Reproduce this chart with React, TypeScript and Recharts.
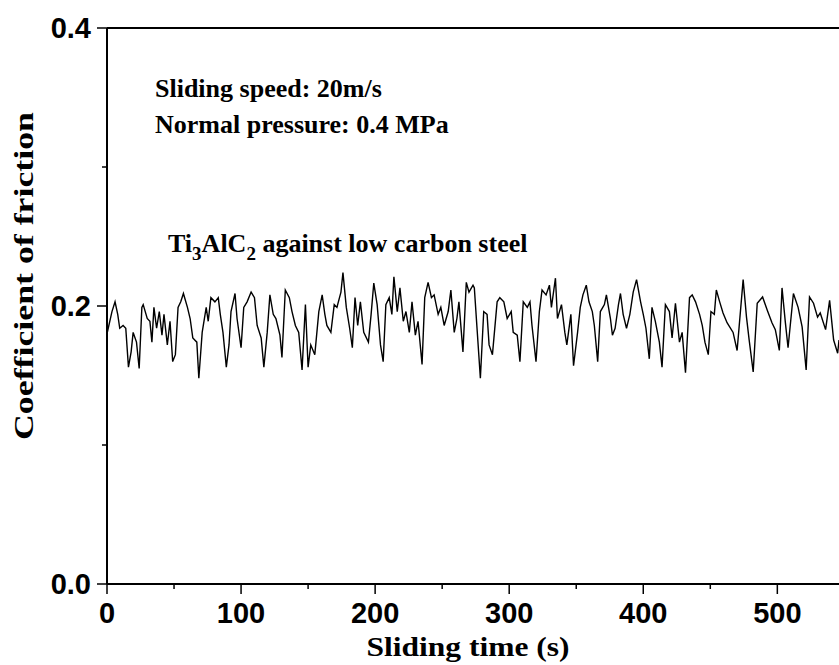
import React from 'react';
import { LineChart, Line, XAxis, YAxis, ReferenceLine } from 'recharts';

// friction trace (time in s, coefficient of friction)
const TIME = [
  0, 3.7, 6, 8, 9.5, 12, 14, 16, 18, 19.5, 22, 24, 26, 27, 30, 32, 33.5, 35, 37, 39,
  41, 42.5, 45, 47, 49, 51, 53, 55, 57, 60, 62, 64, 67, 68.5, 71, 74, 75.5, 77.5, 80.5, 83,
  84.5, 86.5, 89, 91, 92.5, 95.5, 97, 100, 102, 104.5, 107.5, 110, 112, 115, 117, 119.5, 121.5, 124, 126, 129,
  130.5, 133, 136, 138, 140.5, 143, 145.5, 148, 150, 152, 155, 158, 160.5, 162.5, 164, 167, 169.5, 171.5, 174.5, 176,
  178.5, 181, 183, 185, 187, 189, 191.5, 195, 197, 199, 201.5, 204, 206, 208, 210.5, 212.5, 214, 216.5, 218.5, 221,
  223, 225.5, 227.5, 230, 232, 235, 237, 239.5, 242, 244, 247, 249, 251.5, 254.5, 256.5, 259, 261, 262.5, 265.5, 268,
  270, 273, 274, 276, 278.5, 281, 283.5, 285, 287.5, 291, 293, 296, 298.5, 301.5, 303, 306, 308, 310.5, 313.5, 315.5,
  317, 320, 322.5, 324.5, 327.5, 330, 331.5, 334.5, 336, 339, 341.5, 343, 346, 348, 351, 353, 355, 357.5, 359.5, 362,
  363.5, 366, 368, 371, 372.5, 375.5, 377, 379, 381.5, 383, 385, 387.5, 390, 392.5, 395, 398, 400, 402, 404.5, 406.5,
  409, 412, 414, 416.5, 419.5, 421.5, 424, 427, 429, 431.5, 434.5, 436.5, 439, 442, 444, 446, 448.5, 450.5, 453, 454.5,
  457, 459.5, 462.5, 467, 470, 471.5, 474.5, 477, 479, 482, 485, 489, 492.5, 496, 498.5, 501.5, 503.5, 506, 508, 512,
  515.5, 518.5, 521.5, 524, 527, 530, 532, 536, 539, 542, 545, 546,
];

const COF = [
  0.18, 0.196, 0.203, 0.194, 0.184, 0.186, 0.184, 0.156, 0.167, 0.181, 0.174, 0.155, 0.199, 0.201, 0.191, 0.189, 0.174, 0.199, 0.184, 0.196,
  0.179, 0.194, 0.172, 0.189, 0.16, 0.165, 0.199, 0.203, 0.209, 0.199, 0.191, 0.177, 0.174, 0.148, 0.181, 0.199, 0.189, 0.206, 0.203, 0.206,
  0.194, 0.181, 0.156, 0.172, 0.196, 0.209, 0.191, 0.17, 0.199, 0.203, 0.21, 0.206, 0.186, 0.177, 0.156, 0.181, 0.208, 0.194, 0.191, 0.179,
  0.163, 0.2115, 0.206, 0.196, 0.186, 0.181, 0.154, 0.201, 0.156, 0.172, 0.165, 0.196, 0.208, 0.194, 0.186, 0.181, 0.201, 0.199, 0.21, 0.224,
  0.199, 0.184, 0.17, 0.206, 0.186, 0.203, 0.181, 0.174, 0.194, 0.2165, 0.201, 0.172, 0.16, 0.201, 0.206, 0.194, 0.221, 0.196, 0.213, 0.189,
  0.196, 0.181, 0.203, 0.179, 0.189, 0.158, 0.206, 0.217, 0.206, 0.208, 0.194, 0.199, 0.186, 0.196, 0.2115, 0.181, 0.191, 0.203, 0.167, 0.217,
  0.21, 0.215, 0.213, 0.184, 0.148, 0.196, 0.194, 0.172, 0.165, 0.203, 0.206, 0.203, 0.191, 0.196, 0.181, 0.179, 0.16, 0.203, 0.199, 0.203,
  0.186, 0.16, 0.196, 0.2115, 0.208, 0.215, 0.199, 0.22, 0.191, 0.201, 0.181, 0.172, 0.194, 0.157, 0.181, 0.199, 0.208, 0.215, 0.203, 0.196,
  0.186, 0.16, 0.196, 0.201, 0.208, 0.191, 0.179, 0.184, 0.201, 0.209, 0.194, 0.184, 0.194, 0.21, 0.219, 0.203, 0.194, 0.184, 0.162, 0.199,
  0.189, 0.174, 0.156, 0.201, 0.196, 0.177, 0.202, 0.174, 0.181, 0.152, 0.206, 0.208, 0.203, 0.194, 0.186, 0.174, 0.165, 0.196, 0.194, 0.2115,
  0.203, 0.195, 0.188, 0.181, 0.168, 0.185, 0.219, 0.192, 0.1755, 0.1525, 0.202, 0.2065, 0.197, 0.188, 0.183, 0.168, 0.213, 0.188, 0.17, 0.209,
  0.199, 0.185, 0.154, 0.2065, 0.202, 0.192, 0.195, 0.183, 0.204, 0.1755, 0.166, 0.1755,
];

const X_MAJOR = [0, 100, 200, 300, 400, 500];
const X_MINOR = [50, 150, 250, 350, 450];
const Y_MAJOR = [0, 0.2, 0.4];
const Y_MINOR = [0.1, 0.3];

const data = TIME.map((t, i) => ({ t, cof: COF[i] }));

const sans = '"Liberation Sans", Arial, sans-serif';
const serif = '"Liberation Serif", "Times New Roman", serif';

function XTick(props: any) {
  const { x, y, payload } = props;
  const major = X_MAJOR.includes(payload.value);
  return (
    <g>
      <line x1={x} x2={x} y1={y} y2={y + (major ? 10 : 5)} stroke="#000" strokeWidth={1.5} />
      {major && (
        <text x={x} y={y + 39} textAnchor="middle" fontFamily={sans} fontWeight="bold" fontSize={29} fill="#000">
          {payload.value}
        </text>
      )}
    </g>
  );
}

function YTick(props: any) {
  const { x, y, payload } = props;
  const major = Y_MAJOR.some((v) => Math.abs(v - payload.value) < 1e-9);
  return (
    <g>
      <line x1={x - (major ? 10 : 5)} x2={x} y1={y} y2={y} stroke="#000" strokeWidth={1.5} />
      {major && (
        <text x={x - 16} y={y + 10} textAnchor="end" fontFamily={sans} fontWeight="bold" fontSize={29} fill="#000">
          {payload.value.toFixed(1)}
        </text>
      )}
    </g>
  );
}

export default function App() {
  return (
    <div style={{ position: 'absolute', left: 0, top: 0, width: 839, height: 665, background: '#fff' }}>
      <LineChart width={839} height={665} data={data} margin={{ top: 28, right: 0, bottom: 0, left: 0 }}>
        <XAxis
          type="number"
          dataKey="t"
          domain={[0, 546]}
          allowDataOverflow
          ticks={[...X_MAJOR, ...X_MINOR].sort((a, b) => a - b)}
          interval={0}
          tick={<XTick />}
          tickLine={false}
          tickSize={0}
          tickMargin={0}
          axisLine={{ stroke: '#000', strokeWidth: 2 }}
          height={81}
        />
        <YAxis
          type="number"
          domain={[0, 0.4]}
          allowDataOverflow
          ticks={[...Y_MAJOR, ...Y_MINOR].sort((a, b) => a - b)}
          interval={0}
          tick={<YTick />}
          tickLine={false}
          tickSize={0}
          tickMargin={0}
          axisLine={{ stroke: '#000', strokeWidth: 2 }}
          width={107}
        />
        <ReferenceLine y={0.4} stroke="#000" strokeWidth={2} />
        <Line
          type="linear"
          dataKey="cof"
          stroke="#000"
          strokeWidth={1.4}
          dot={false}
          isAnimationActive={false}
        />
      </LineChart>
      <svg width={839} height={665} style={{ position: 'absolute', left: 0, top: 0, pointerEvents: 'none' }}>
        <g fontFamily={serif} fontWeight="bold" fill="#000">
          <text x={155} y={97} fontSize={26}>Sliding speed: 20m/s</text>
          <text x={155} y={133} fontSize={26}>Normal pressure: 0.4 MPa</text>
          <text x={168} y={252} fontSize={26}>
            Ti<tspan fontSize={19} dy={8}>3</tspan>
            <tspan dy={-8}>AlC</tspan>
            <tspan fontSize={19} dy={8}>2</tspan>
            <tspan dy={-8}> against low carbon steel</tspan>
          </text>
          <text x={468} y={656} fontSize={27} textAnchor="middle" textLength={203} lengthAdjust="spacingAndGlyphs">
            Sliding time (s)
          </text>
          <text
            transform="translate(33, 276) rotate(-90)"
            fontSize={28}
            textAnchor="middle"
            textLength={328}
            lengthAdjust="spacingAndGlyphs"
          >
            Coefficient of friction
          </text>
        </g>
      </svg>
    </div>
  );
}
